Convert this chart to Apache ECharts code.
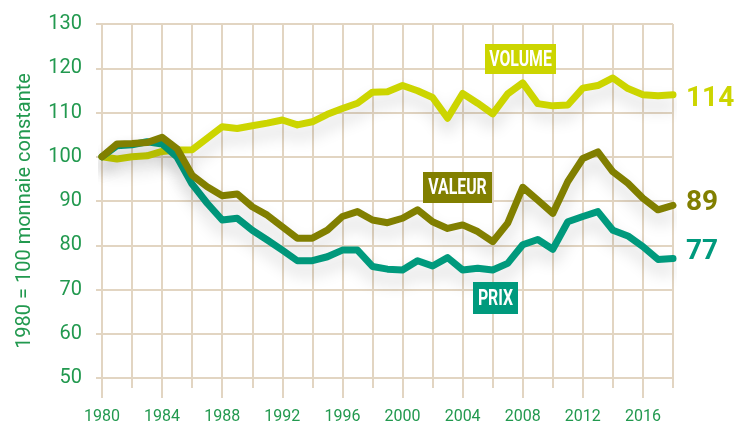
<!DOCTYPE html>
<html>
<head>
<meta charset="utf-8">
<script src="https://cdn.jsdelivr.net/npm/echarts@6/dist/echarts.min.js"></script>
<style>
  html, body { margin: 0; padding: 0; background: #ffffff; }
  #chart { width: 735px; height: 423px; }
</style>
</head>
<body>
<div id="chart"></div>
<script>
// Index 1980 = 100, constant currency
const years = ['1980','1981','1982','1983','1984','1985','1986','1987','1988','1989',
               '1990','1991','1992','1993','1994','1995','1996','1997','1998','1999',
               '2000','2001','2002','2003','2004','2005','2006','2007','2008','2009',
               '2010','2011','2012','2013','2014','2015','2016','2017','2018'];

const volume = [100, 99.5, 100, 100.2, 101.2, 101.5, 101.6, 104.2, 106.8, 106.4,
                107, 107.6, 108.3, 107.2, 107.9, 109.6, 110.9, 112.1, 114.6, 114.7,
                116.1, 114.9, 113.4, 108.7, 114.3, 112.1, 109.7, 114.2, 116.7, 112,
                111.5, 111.7, 115.5, 116.1, 117.8, 115.4, 114, 113.8, 114];

const valeur = [100, 102.9, 103, 103.2, 104.4, 101.8, 95.8, 93.2, 91.2, 91.6,
                88.7, 86.8, 84.2, 81.6, 81.6, 83.4, 86.5, 87.6, 85.7, 85.1,
                86.1, 88, 85.3, 83.8, 84.6, 83.1, 80.8, 85, 93.1, 90.2,
                87.2, 94.4, 99.6, 101.1, 96.6, 94, 90.6, 88, 89];

const prix = [100, 102.5, 102.7, 103.4, 102.9, 99.9, 93.8, 89.5, 85.7, 86.1,
              83.4, 81.2, 78.9, 76.5, 76.5, 77.4, 78.9, 78.9, 75.2, 74.6,
              74.4, 76.5, 75.3, 77.2, 74.4, 74.8, 74.4, 75.9, 80.1, 81.3,
              79.1, 85.3, 86.5, 87.6, 83.4, 82.1, 79.7, 76.8, 77];

const yMin = 50, yMax = 130, yStep = 10;
const yTitle = '1980 = 100 monnaie constante';
const seriesNames = ['VOLUME', 'VALEUR', 'PRIX'];

const C_VOLUME = '#ccd500';
const C_VALEUR = '#817f00';
const C_PRIX = '#009a7d';
const C_TEXT = '#22994f';
const C_GRID = '#e2d5c2';

const chart = echarts.init(document.getElementById('chart'), null, { renderer: 'canvas' });

function lineSeries(name, data, color, labelDy) {
  return {
    name: name,
    type: 'line',
    data: data,
    xAxisIndex: 0,
    symbol: 'none',
    smooth: false,
    lineStyle: {
      color: color,
      width: 7,
      cap: 'round',
      join: 'round',
      shadowColor: 'rgba(0,0,0,0.17)',
      shadowBlur: 16,
      shadowOffsetY: 10
    },
    endLabel: {
      show: true,
      formatter: p => String(Math.round(p.value)),
      color: color,
      fontFamily: 'Roboto',
      fontWeight: 'bold',
      fontSize: 28,
      distance: 13,
      offset: [0, labelDy]
    },
    emphasis: { disabled: true },
    animation: false
  };
}

// Coloured tag: a filled box with a condensed white caption
function tagBox(cx, cy, w, h, text, color) {
  return [
    { type: 'rect', z: 10, shape: { x: cx - w / 2, y: cy - h / 2, width: w, height: h },
      style: { fill: color } },
    { type: 'text', z: 11, x: cx, y: cy + 1, scaleX: 0.72, scaleY: 1,
      style: { text: text, x: 0, y: 0, fill: '#ffffff', align: 'center', verticalAlign: 'middle',
               font: 'bold 22px Roboto, sans-serif' } }
  ];
}

const option = {
  backgroundColor: '#ffffff',
  animation: false,
  grid: { left: 102, right: 62, top: 24, bottom: 45, containLabel: false, outerBoundsMode: 'none' },
  xAxis: [
    {
      type: 'category',
      data: years,
      boundaryGap: false,
      axisLine: { show: true, lineStyle: { color: C_GRID, width: 2 } },
      axisTick: { show: true, length: 20, lineStyle: { color: C_GRID, width: 2 },
                  interval: (i) => i % 4 === 0 },
      axisLabel: { show: true, interval: (i) => i % 4 === 0, margin: 31,
                   color: C_TEXT, fontFamily: 'Roboto', fontSize: 16 },
      splitLine: { show: true, interval: (i) => i % 2 === 0,
                   lineStyle: { color: C_GRID, width: 2 } }
    },
    {
      type: 'category',
      data: years,
      boundaryGap: false,
      position: 'bottom',
      axisLine: { show: false },
      axisTick: { show: true, length: 10, lineStyle: { color: C_GRID, width: 2 },
                  interval: (i) => i % 2 === 0 },
      axisLabel: { show: false },
      splitLine: { show: false }
    }
  ],
  yAxis: {
    type: 'value',
    min: yMin, max: yMax, interval: yStep,
    axisLine: { show: true, lineStyle: { color: C_GRID, width: 2 } },
    axisTick: { show: true, length: 6, lineStyle: { color: C_GRID, width: 2 } },
    axisLabel: { color: C_TEXT, fontFamily: 'Roboto', fontSize: 20, margin: 20 },
    splitLine: { show: true, lineStyle: { color: C_GRID, width: 2 } }
  },
  graphic: [
    {
      type: 'text',
      x: 25, y: 211,
      rotation: Math.PI / 2,
      style: { text: yTitle, fill: C_TEXT, font: '20px Roboto', align: 'center', verticalAlign: 'middle' }
    },
    ...tagBox(520.5, 59, 71, 30, seriesNames[0], C_VOLUME),
    ...tagBox(457.5, 187.5, 69, 31, seriesNames[1], C_VALEUR),
    ...tagBox(495.5, 298, 45, 32, seriesNames[2], C_PRIX)
  ],
  series: [
    lineSeries(seriesNames[0], volume, C_VOLUME, 4),
    lineSeries(seriesNames[2], prix, C_PRIX, -7),
    lineSeries(seriesNames[1], valeur, C_VALEUR, -2)
  ]
};

chart.setOption(option);
</script>
</body>
</html>
